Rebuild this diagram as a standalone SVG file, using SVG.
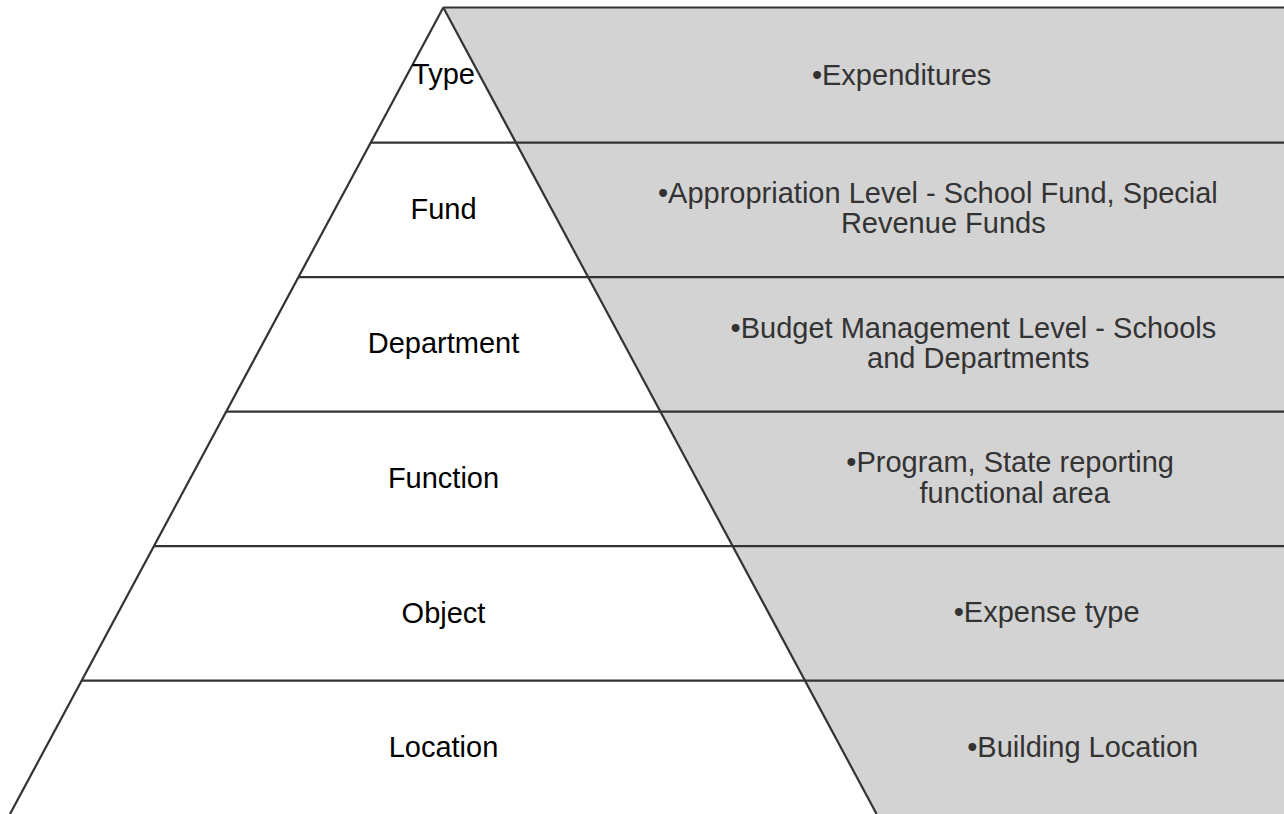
<svg xmlns="http://www.w3.org/2000/svg" width="1284" height="814" viewBox="0 0 1284 814">
  <style>
    .edge { stroke: #333333; stroke-width: 2.2; fill: none; stroke-linecap: butt; }
    .band { fill: #d3d3d3; }
    .lvl { font-family: "Liberation Sans", Arial, sans-serif; font-size: 29px; fill: #000000; text-anchor: middle; }
    .desc { font-family: "Liberation Sans", Arial, sans-serif; font-size: 29px; fill: #333333; text-anchor: middle; }
  </style>

  <rect width="1284" height="814" fill="#ffffff"/>

  <!-- shaded description band to the right of the pyramid -->
  <polygon class="band" points="443.3,7.5 1284,7.5 1284,814 876.6,814"/>

  <!-- pyramid outline and level dividers -->
  <g id="connectors">
    <line class="edge" x1="443.3" y1="7.5" x2="1284" y2="7.5"/>
    <line class="edge" x1="370.7" y1="142.7" x2="1284" y2="142.7"/>
    <line class="edge" x1="298.5" y1="277.2" x2="1284" y2="277.2"/>
    <line class="edge" x1="226.2" y1="411.7" x2="1284" y2="411.7"/>
    <line class="edge" x1="153.9" y1="546.2" x2="1284" y2="546.2"/>
    <line class="edge" x1="81.6" y1="680.7" x2="1284" y2="680.7"/>
    <line class="edge" x1="443.3" y1="7.5" x2="10" y2="814"/>
    <line class="edge" x1="443.3" y1="7.5" x2="876.6" y2="814"/>
  </g>

  <g id="level-type">
    <text class="lvl" x="443.5" y="84">Type</text>
    <text class="desc" x="901.6" y="85">•Expenditures</text>
  </g>

  <g id="level-fund">
    <text class="lvl" x="443.5" y="219">Fund</text>
    <text class="desc" x="937.9" y="203.3">•Appropriation Level - School Fund, Special</text>
    <text class="desc" x="943.3" y="233.3">Revenue Funds</text>
  </g>

  <g id="level-department">
    <text class="lvl" x="443.5" y="353.3">Department</text>
    <text class="desc" x="973.4" y="338.3">•Budget Management Level - Schools</text>
    <text class="desc" x="978.3" y="368.3">and Departments</text>
  </g>

  <g id="level-function">
    <text class="lvl" x="443.5" y="488.3">Function</text>
    <text class="desc" x="1010.1" y="472.3">•Program, State reporting</text>
    <text class="desc" x="1014.7" y="502.5">functional area</text>
  </g>

  <g id="level-object">
    <text class="lvl" x="443.5" y="622.7">Object</text>
    <text class="desc" x="1046.6" y="621.7">•Expense type</text>
  </g>

  <g id="level-location">
    <text class="lvl" x="443.5" y="756.7">Location</text>
    <text class="desc" x="1082.7" y="756.7">•Building Location</text>
  </g>
</svg>
